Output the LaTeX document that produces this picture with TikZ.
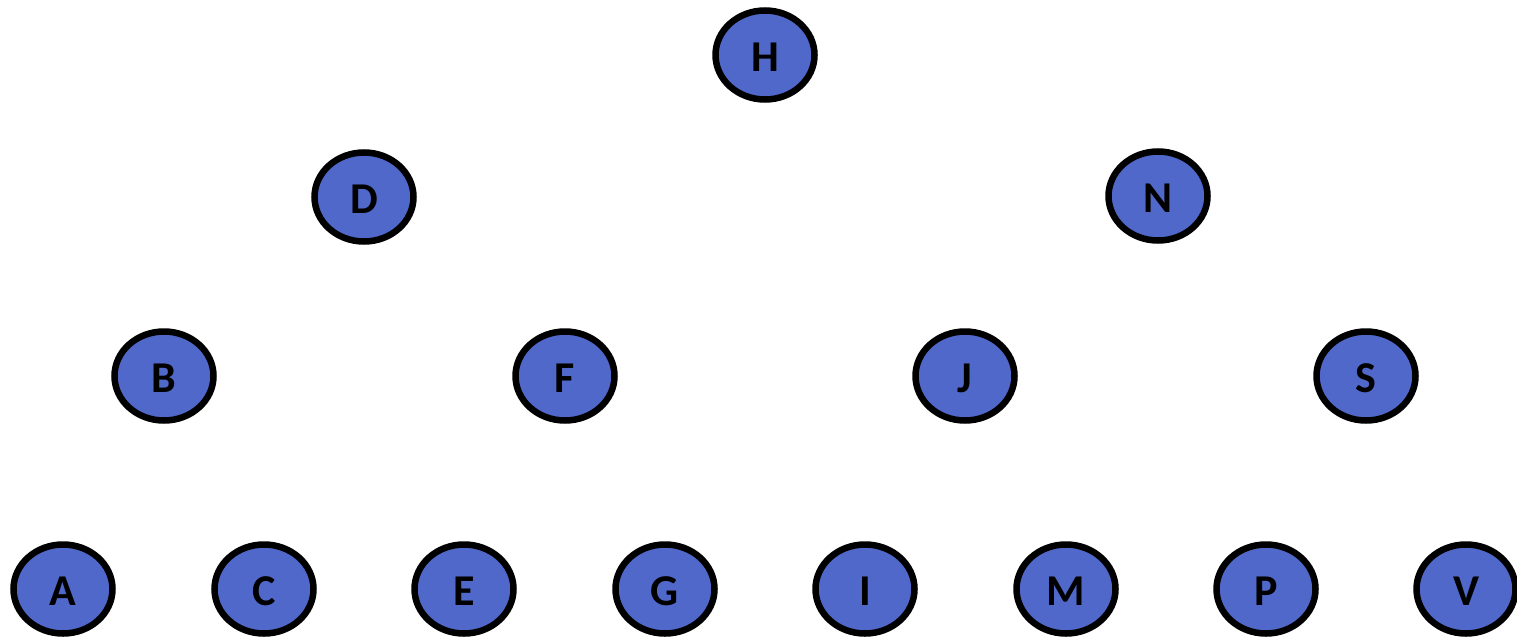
\documentclass[tikz,border=0pt]{standalone}
\usepackage{fontspec}
\setmainfont{Carlito}
\definecolor{nodefill}{RGB}{80,104,201}
\begin{document}
\begin{tikzpicture}[x=1pt,y=-1pt,
  nodeshape/.style={draw=black,line width=6.5pt,fill=nodefill},
  nodelabel/.style={font=\bfseries\fontsize{44}{44}\selectfont,inner sep=0pt},
  ]
\useasboundingbox (0,0) rectangle (1517,637);
\foreach \n/\x/\y in {H/765/55, D/364/197, N/1158/196, B/164/376, F/565/376, J/965/376, S/1366/376,
  A/63/589, C/264/589, E/464/589, G/665/589, I/865/589, M/1066/589, P/1266/589, V/1466/589} {
  \draw[nodeshape] (\x,\y) ellipse [x radius=49.5pt, y radius=44.5pt];
  \node[nodelabel] (\n) at (\x,\y+2) {\n};
}
\end{tikzpicture}
\end{document}
